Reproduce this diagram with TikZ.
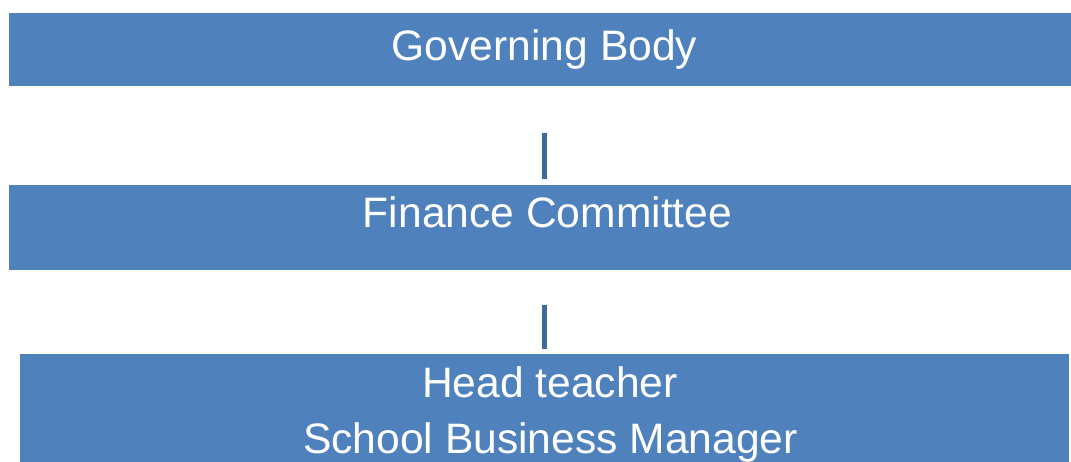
\documentclass[tikz,border=0pt]{standalone}
\usepackage{fontspec}
\setmainfont{Liberation Sans}
\definecolor{boxblue}{HTML}{4F81BD}
\definecolor{lineblue}{HTML}{3E6AA0}
\begin{document}
\begin{tikzpicture}[x=1pt,y=-1pt,
  bluebox/.style={fill=boxblue,draw=none,inner sep=0pt,outer sep=0pt},
  label/.style={text=white,anchor=base,inner sep=0pt,font=\fontsize{42.6}{50}\selectfont},
  link/.style={draw=lineblue,line width=5pt}]
\useasboundingbox (0,0) rectangle (1071,462);
\node[bluebox,minimum width=1062pt,minimum height=73pt] (gb) at (540,49.5) {};
\node[bluebox,minimum width=1062pt,minimum height=85pt] (fc) at (540,227.5) {};
\node[bluebox,minimum width=1049pt,minimum height=108pt] (ht) at (544.5,408) {};
\node[label] (gbt) at (544.5,61) {Governing Body};
\node[label] (fct) at (547.5,228) {Finance Committee};
\node[label] (htt) at (550,397) {Head teacher};
\node[label] (sbm) at (550.5,453) {School Business Manager};
\coordinate (l1a) at (544.5,133);
\coordinate (l1b) at (544.5,179);
\coordinate (l2a) at (544.5,305);
\coordinate (l2b) at (544.5,349);
\draw[link] (l1a) -- (l1b);
\draw[link] (l2a) -- (l2b);
\end{tikzpicture}
\end{document}
